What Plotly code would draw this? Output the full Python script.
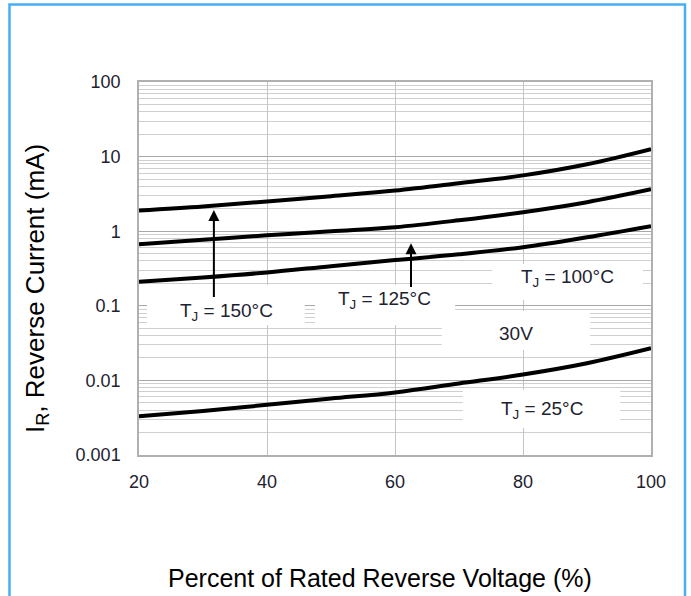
import math
import plotly.graph_objects as go

# Percent of rated reverse voltage
voltage_pct = [20, 30, 40, 50, 60, 70, 80, 90, 100]
# Reverse current (mA) per junction temperature
ir_150 = [1.9, 2.15, 2.5, 2.95, 3.5, 4.4, 5.6, 7.9, 12.6]
ir_125 = [0.67, 0.77, 0.88, 1.0, 1.13, 1.4, 1.8, 2.45, 3.65]
ir_100 = [0.21, 0.24, 0.28, 0.34, 0.41, 0.49, 0.61, 0.83, 1.17]
ir_25 = [0.0033, 0.0039, 0.0047, 0.0057, 0.0069, 0.0091, 0.012, 0.017, 0.027]

y_tickvals = [0.001, 0.01, 0.1, 1, 10, 100]
y_ticktext = ["0.001", "0.01", "0.1", "1", "10", "100"]
x_tickvals = [20, 40, 60, 80, 100]

FONT = "Liberation Sans, Arial, sans-serif"
TXT = "#1e2230"

fig = go.Figure()
for ys in (ir_150, ir_125, ir_100, ir_25):
    fig.add_trace(go.Scatter(x=voltage_pct, y=ys, mode="lines",
                             line=dict(color="black", width=4, shape="spline"),
                             showlegend=False, hoverinfo="skip"))

# white boxes behind labels (mask grid lines)
boxes = [  # x0, x1, y0, y1 in data units
    (21.25, 45.9, 0.0553, 0.19),
    (47.5, 69.4, 0.0553, 0.19),
    (75.2, 98.75, 0.12, 0.363),
    (67.3, 90.5, 0.0257, 0.085),
    (70.6, 95.2, 0.0023, 0.00743),
]
for x0, x1, y0, y1 in boxes:
    fig.add_shape(type="rect", xref="x", yref="y", x0=x0, x1=x1, y0=y0, y1=y1,
                  fillcolor="white", line=dict(width=0), layer="between")

labels = [
    (33.6, 0.083, "T<sub>J</sub> = 150°C"),
    (58.3, 0.12, "T<sub>J</sub> = 125°C"),
    (86.9, 0.236, "T<sub>J</sub> = 100°C"),
    (78.9, 0.043, "30V"),
    (83.0, 0.0040, "T<sub>J</sub> = 25°C"),
]
for x, y, t in labels:
    fig.add_annotation(x=x, y=math.log10(y), xref="x", yref="y", text=t,
                       showarrow=False, font=dict(family=FONT, size=19, color=TXT))

# arrows
arrows = [(31.7, 0.125, 1.93), (62.5, 0.17, 0.69)]
for x, ybot, ytip in arrows:
    fig.add_annotation(x=x, y=math.log10(ytip), ax=x, ay=math.log10(ybot),
                       xref="x", yref="y", axref="x", ayref="y", text="",
                       showarrow=True, arrowhead=2, arrowsize=1.1, arrowwidth=2,
                       arrowcolor="black", standoff=0, startstandoff=0)

# axis titles
fig.add_annotation(xref="paper", yref="paper", x=(380 - 139) / 512, y=(455 - 578) / 373,
                   xanchor="center", yanchor="middle",
                   text="Percent of Rated Reverse Voltage (%)", showarrow=False,
                   font=dict(family=FONT, size=25, color="black"))
fig.add_annotation(xref="paper", yref="paper", x=(36 - 139) / 512, y=(455 - 289) / 373,
                   xanchor="center", yanchor="middle",
                   text="I<sub>R</sub>, Reverse Current (mA)", showarrow=False, textangle=-90,
                   font=dict(family=FONT, size=26, color="black"))

# blue frame
fig.add_shape(type="rect", xref="paper", yref="paper",
              x0=(9.5 - 139) / 512, x1=(685 - 139) / 512,
              y0=(455 - 610) / 373, y1=(455 - 4.5) / 373,
              line=dict(color="#45aef5", width=2.5), fillcolor="rgba(0,0,0,0)")

fig.update_xaxes(range=[20, 100], tickvals=x_tickvals, showgrid=True,
                 gridcolor="#c4c4c4", gridwidth=1.2, zeroline=False,
                 showline=True, linecolor="#b0b0b0", linewidth=1.5, mirror=True,
                 ticks="outside", ticklen=10, tickcolor="rgba(0,0,0,0)",
                 tickfont=dict(family=FONT, size=18, color=TXT))
fig.update_yaxes(type="log", range=[-3, 2], tickvals=y_tickvals, ticktext=y_ticktext,
                 showgrid=True, gridcolor="#a8a8a8", gridwidth=1.3, zeroline=False,
                 showline=True, linecolor="#b0b0b0", linewidth=1.5, mirror=True,
                 ticks="outside", ticklen=13, tickcolor="rgba(0,0,0,0)",
                 tickfont=dict(family=FONT, size=18, color=TXT),
                 minor=dict(dtick="D1", showgrid=True, gridcolor="#cfcfcf", gridwidth=1,
                            ticks=""))

fig.update_layout(width=691, height=596, margin=dict(l=139, r=40, t=82, b=141),
                  plot_bgcolor="white", paper_bgcolor="white")
fig.write_html("out.html")
